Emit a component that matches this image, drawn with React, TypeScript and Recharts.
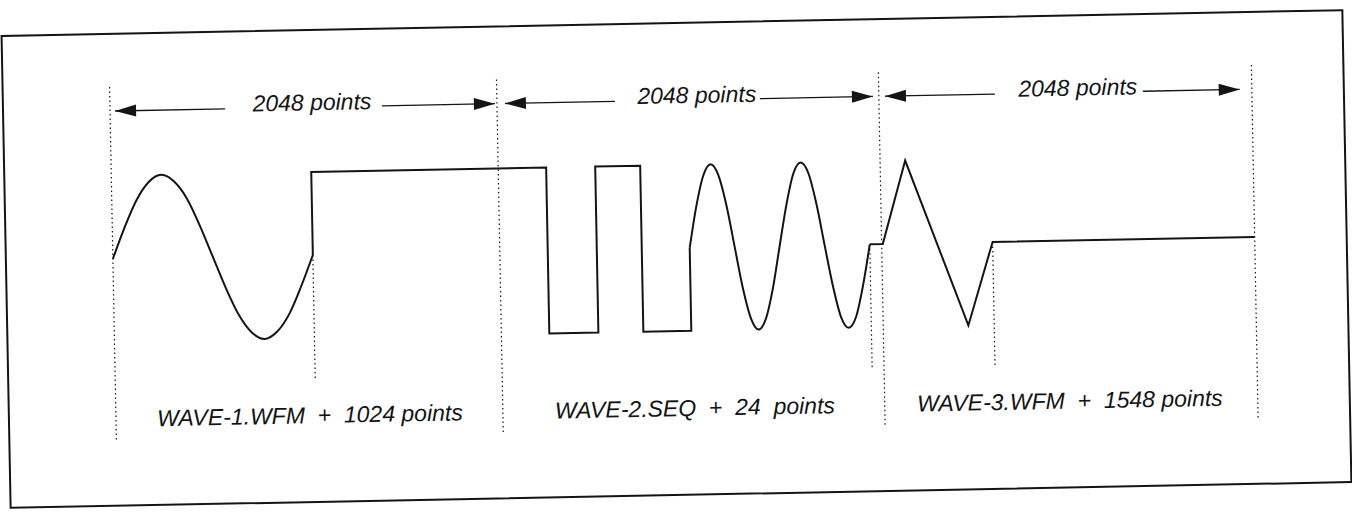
import React from 'react';
import { LineChart, Line, XAxis, YAxis, ReferenceLine, ReferenceDot } from 'recharts';

const W = 1352;
const H = 520;
const FONT = '"Liberation Sans", Arial, Helvetica, sans-serif';
const INK = '#141414';

// x = position in waveform points (as drawn), y = level (+1 high, 0 mid, -1 low)
const wave1X = [0, 67, 135, 202, 269, 336, 404, 471, 538, 605, 673, 740, 807, 874, 942, 1009, 1076];
const wave1Y = [0, 0.38, 0.71, 0.92, 1, 0.92, 0.71, 0.38, 0, -0.38, -0.71, -0.92, -1, -0.92, -0.71, -0.38, 0];

// hold after WAVE-1 then the square part of WAVE-2.SEQ
const seqX = [1076, 1076, 2340, 2340, 2604, 2604, 2846, 2846, 3104, 3104];
const seqY = [0, 1, 1, -1, -1, 1, 1, -1, -1, 0];

const wave2X = [3104, 3144, 3185, 3225, 3265, 3306, 3346, 3386, 3427, 3467, 3507, 3548, 3588,
  3629, 3669, 3709, 3750, 3790, 3830, 3871, 3911, 3951, 3992, 4032, 4073];
const wave2Y = [0, 0.5, 0.87, 1, 0.87, 0.5, 0, -0.5, -0.87, -1, -0.87, -0.5, 0,
  0.5, 0.87, 1, 0.87, 0.5, 0, -0.5, -0.87, -1, -0.87, -0.5, 0];

// 24 point pad, WAVE-3 triangle, then 1548 point hold
const wave3X = [4073, 4143, 4272, 4595, 4734, 6144];
const wave3Y = [0, 0, 1, -1, 0, 0];

const segmentBounds = [0, 2082, 4137, 6144];
const waveEnds = [1076, 4073, 4734];

const spanLabels = ['2048 points', '2048 points', '2048 points'];
const spanLabelX = [1087, 3158, 5208];
const arrowLeftTips = [27, 2125, 4170];
const arrowLeftTails = [619, 2717, 4761];
const arrowRightTails = [1463, 3497, 5558];
const arrowRightTips = [2071, 4105, 6079];

const fileLabels = ['WAVE-1.WFM  +  1024 points', 'WAVE-2.SEQ  +  24  points', 'WAVE-3.WFM  +  1548 points'];
const fileLabelX = [1044, 3115, 5133];

const ARROW_Y = 1.78;
const SPAN_TEXT_Y = 1.84;
const FILE_TEXT_Y = -1.93;
const GUIDE_TOP = 2.07;
const GUIDE_BOTTOM = -2.2;
const SHORT_BOTTOM = -1.49;

const toPoints = (xs: number[], ys: number[]) => xs.map((x, i) => ({ x, y: ys[i] }));

const arrowHead = (dir: 'left' | 'right') => (p: any) => {
  const { cx, cy } = p;
  const s = dir === 'left' ? 1 : -1;
  return <polygon points={`${cx},${cy} ${cx + s * 21},${cy - 6} ${cx + s * 21},${cy + 6}`} fill={INK} />;
};

const textShape = (label: string) => (p: any) => (
  <text
    x={p.cx}
    y={p.cy}
    textAnchor="middle"
    dominantBaseline="central"
    fontFamily={FONT}
    fontStyle="italic"
    fontSize={23}
    fill={INK}
    style={{ whiteSpace: 'pre' }}
  >
    {label}
  </text>
);

const guide = { stroke: INK, strokeWidth: 1.2, strokeDasharray: '1.5 3' };

export default function App() {
  return (
    <div style={{ position: 'absolute', left: 0, top: 0, width: W, height: H, overflow: 'hidden', background: '#fff' }}>
      <div
        style={{
          position: 'absolute',
          left: 0,
          top: 0,
          width: W,
          height: H,
          transform: 'rotate(-1.1deg)',
          transformOrigin: '676px 260px',
        }}
      >
        <div
          style={{
            position: 'absolute',
            left: 5,
            top: 22,
            width: 1343,
            height: 474,
            border: `2px solid ${INK}`,
            boxSizing: 'border-box',
          }}
        />
        <LineChart width={W} height={H} margin={{ top: 0, right: 0, bottom: 0, left: 0 }}>
          <XAxis type="number" dataKey="x" domain={[-608, 6666]} allowDataOverflow hide />
          <YAxis type="number" dataKey="y" domain={[-3.277, 2.988]} allowDataOverflow hide />

          {segmentBounds.map((x, i) => (
            <ReferenceLine key={`g${i}`} segment={[{ x, y: GUIDE_TOP }, { x, y: GUIDE_BOTTOM }]} {...guide} />
          ))}
          {waveEnds.map((x, i) => (
            <ReferenceLine key={`s${i}`} segment={[{ x, y: 0 }, { x, y: SHORT_BOTTOM }]} {...guide} />
          ))}

          <Line data={toPoints(wave1X, wave1Y)} dataKey="y" type="monotone" stroke={INK} strokeWidth={2}
            dot={false} activeDot={false} isAnimationActive={false} />
          <Line data={toPoints(seqX, seqY)} dataKey="y" type="linear" stroke={INK} strokeWidth={2}
            dot={false} activeDot={false} isAnimationActive={false} />
          <Line data={toPoints(wave2X, wave2Y)} dataKey="y" type="monotone" stroke={INK} strokeWidth={2}
            dot={false} activeDot={false} isAnimationActive={false} />
          <Line data={toPoints(wave3X, wave3Y)} dataKey="y" type="linear" stroke={INK} strokeWidth={2}
            dot={false} activeDot={false} isAnimationActive={false} />

          {spanLabels.map((label, i) => (
            <React.Fragment key={`a${i}`}>
              <ReferenceLine segment={[{ x: arrowLeftTips[i], y: ARROW_Y }, { x: arrowLeftTails[i], y: ARROW_Y }]}
                stroke={INK} strokeWidth={1.3} />
              <ReferenceLine segment={[{ x: arrowRightTails[i], y: ARROW_Y }, { x: arrowRightTips[i], y: ARROW_Y }]}
                stroke={INK} strokeWidth={1.3} />
              <ReferenceDot x={arrowLeftTips[i]} y={ARROW_Y} r={1} shape={arrowHead('left')} />
              <ReferenceDot x={arrowRightTips[i]} y={ARROW_Y} r={1} shape={arrowHead('right')} />
              <ReferenceDot x={spanLabelX[i]} y={SPAN_TEXT_Y} r={1} shape={textShape(label)} />
            </React.Fragment>
          ))}

          {fileLabels.map((label, i) => (
            <ReferenceDot key={`f${i}`} x={fileLabelX[i]} y={FILE_TEXT_Y} r={1} shape={textShape(label)} />
          ))}
        </LineChart>
      </div>
    </div>
  );
}
